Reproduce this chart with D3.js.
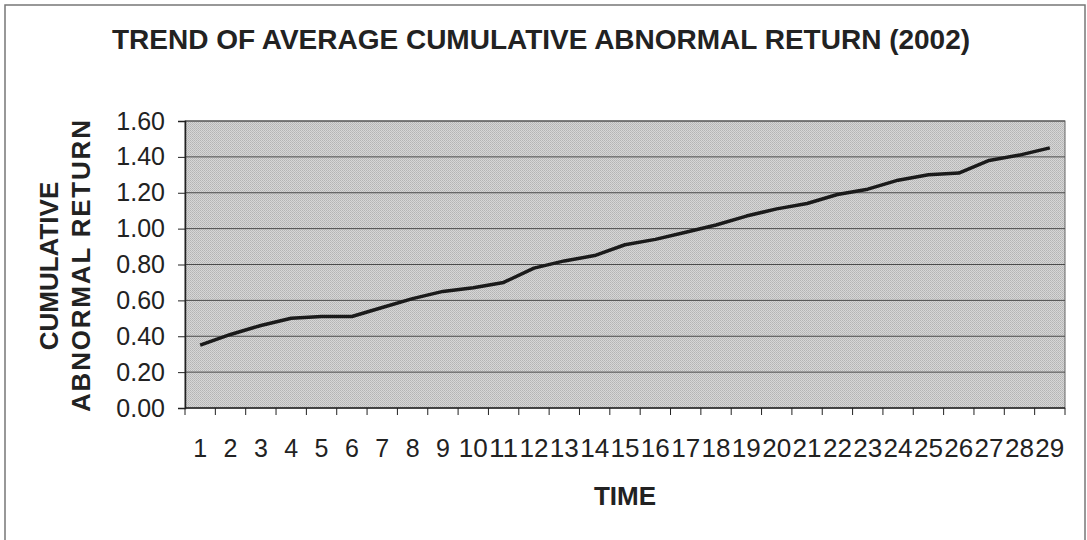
<!DOCTYPE html>
<html>
<head>
<meta charset="utf-8">
<script src="https://cdn.jsdelivr.net/npm/d3@7/dist/d3.min.js"></script>
<style>
  body { margin: 0; background: #fff; }
  svg { display: block; font-family: "Liberation Sans", Arial, sans-serif; }
</style>
</head>
<body>
<svg width="1087" height="540"></svg>
<script>
// data
const periods = ['1','2','3','4','5','6','7','8','9','10','11','12','13','14','15',
                 '16','17','18','19','20','21','22','23','24','25','26','27','28','29'];
const car = [0.35, 0.41, 0.46, 0.50, 0.51, 0.51, 0.56, 0.61, 0.65, 0.67, 0.70, 0.78, 0.82, 0.85, 0.91,
             0.94, 0.98, 1.02, 1.07, 1.11, 1.14, 1.19, 1.22, 1.27, 1.30, 1.31, 1.38, 1.41, 1.45];
const yTicks = [0, 0.2, 0.4, 0.6, 0.8, 1.0, 1.2, 1.4, 1.6];

const svg = d3.select('svg');
const pLeft = 185, pRight = 1065, pTop = 121, pBottom = 408;

// outer frame
svg.append('rect')
   .attr('x', 5).attr('y', 5).attr('width', 1080).attr('height', 560)
   .attr('fill', 'none').attr('stroke', '#777').attr('stroke-width', 1.5);

// dithered grey fill for the plot area
const defs = svg.append('defs');
const pat = defs.append('pattern')
   .attr('id', 'dots').attr('width', 2).attr('height', 2)
   .attr('patternUnits', 'userSpaceOnUse');
pat.append('rect').attr('width', 2).attr('height', 2).attr('fill', '#d6d6d6');
pat.append('rect').attr('width', 1).attr('height', 1).attr('fill', '#b4b4b4');
pat.append('rect').attr('x', 1).attr('y', 1).attr('width', 1).attr('height', 1).attr('fill', '#bdbdbd');

const x = d3.scaleBand().domain(periods).range([pLeft, pRight]);
const y = d3.scaleLinear().domain([0, 1.6]).range([pBottom, pTop]);

svg.append('rect')
   .attr('x', pLeft).attr('y', pTop)
   .attr('width', pRight - pLeft).attr('height', pBottom - pTop)
   .attr('fill', 'url(#dots)')
   .attr('stroke', '#666').attr('stroke-width', 1);

// horizontal gridlines
svg.append('g')
   .selectAll('line')
   .data(yTicks.slice(1))
   .enter().append('line')
   .attr('x1', pLeft).attr('x2', pRight)
   .attr('y1', d => y(d)).attr('y2', d => y(d))
   .attr('stroke', '#4a4a4a').attr('stroke-width', 1);

// y axis
const yAxis = svg.append('g')
   .attr('transform', 'translate(' + pLeft + ',0)')
   .call(d3.axisLeft(y).tickValues(yTicks).tickFormat(d3.format('.2f')).tickSize(7).tickPadding(13));
yAxis.select('.domain').attr('stroke', '#222').attr('stroke-width', 1.5);
yAxis.selectAll('.tick line').attr('stroke', '#222');
yAxis.selectAll('text').attr('font-size', 25).attr('fill', '#222')
   .attr('font-family', '"Liberation Sans", Arial, sans-serif');

// x axis: ticks sit between categories
const xAxis = svg.append('g')
   .attr('transform', 'translate(0,' + pBottom + ')');
xAxis.append('line')
   .attr('x1', pLeft).attr('x2', pRight)
   .attr('stroke', '#222').attr('stroke-width', 1.5);
xAxis.selectAll('.tk')
   .data(periods.concat(['end']))
   .enter().append('line')
   .attr('class', 'tk')
   .attr('x1', (d, i) => pLeft + i * x.bandwidth())
   .attr('x2', (d, i) => pLeft + i * x.bandwidth())
   .attr('y1', 0).attr('y2', 7)
   .attr('stroke', '#222');
xAxis.selectAll('text')
   .data(periods)
   .enter().append('text')
   .attr('x', d => x(d) + x.bandwidth() / 2)
   .attr('y', 49)
   .attr('text-anchor', 'middle')
   .attr('font-size', 25)
   .attr('fill', '#222')
   .attr('textLength', d => d.length > 1 ? 29 : null)
   .attr('lengthAdjust', 'spacingAndGlyphs')
   .text(d => d);

// the line
const line = d3.line()
   .x((d, i) => x(periods[i]) + x.bandwidth() / 2)
   .y(d => y(d));
svg.append('path')
   .datum(car)
   .attr('d', line)
   .attr('fill', 'none')
   .attr('stroke', '#1a1a1a')
   .attr('stroke-width', 3.5)
   .attr('stroke-linejoin', 'round');

// titles
svg.append('text')
   .attr('x', 541).attr('y', 49)
   .attr('text-anchor', 'middle')
   .attr('font-size', 28).attr('font-weight', 'bold').attr('fill', '#222')
   .text('TREND OF AVERAGE CUMULATIVE ABNORMAL RETURN (2002)');

svg.append('text')
   .attr('x', (pLeft + pRight) / 2).attr('y', 505)
   .attr('text-anchor', 'middle')
   .attr('font-size', 26).attr('font-weight', 'bold').attr('fill', '#222')
   .text('TIME');

const yt = svg.append('text')
   .attr('transform', 'translate(0,266) rotate(-90)')
   .attr('text-anchor', 'middle')
   .attr('font-size', 26).attr('font-weight', 'bold').attr('fill', '#222');
yt.append('tspan').attr('x', 0).attr('y', 58).text('CUMULATIVE');
yt.append('tspan').attr('x', 0).attr('y', 90).attr('textLength', 292).text('ABNORMAL RETURN');
</script>
</body>
</html>
